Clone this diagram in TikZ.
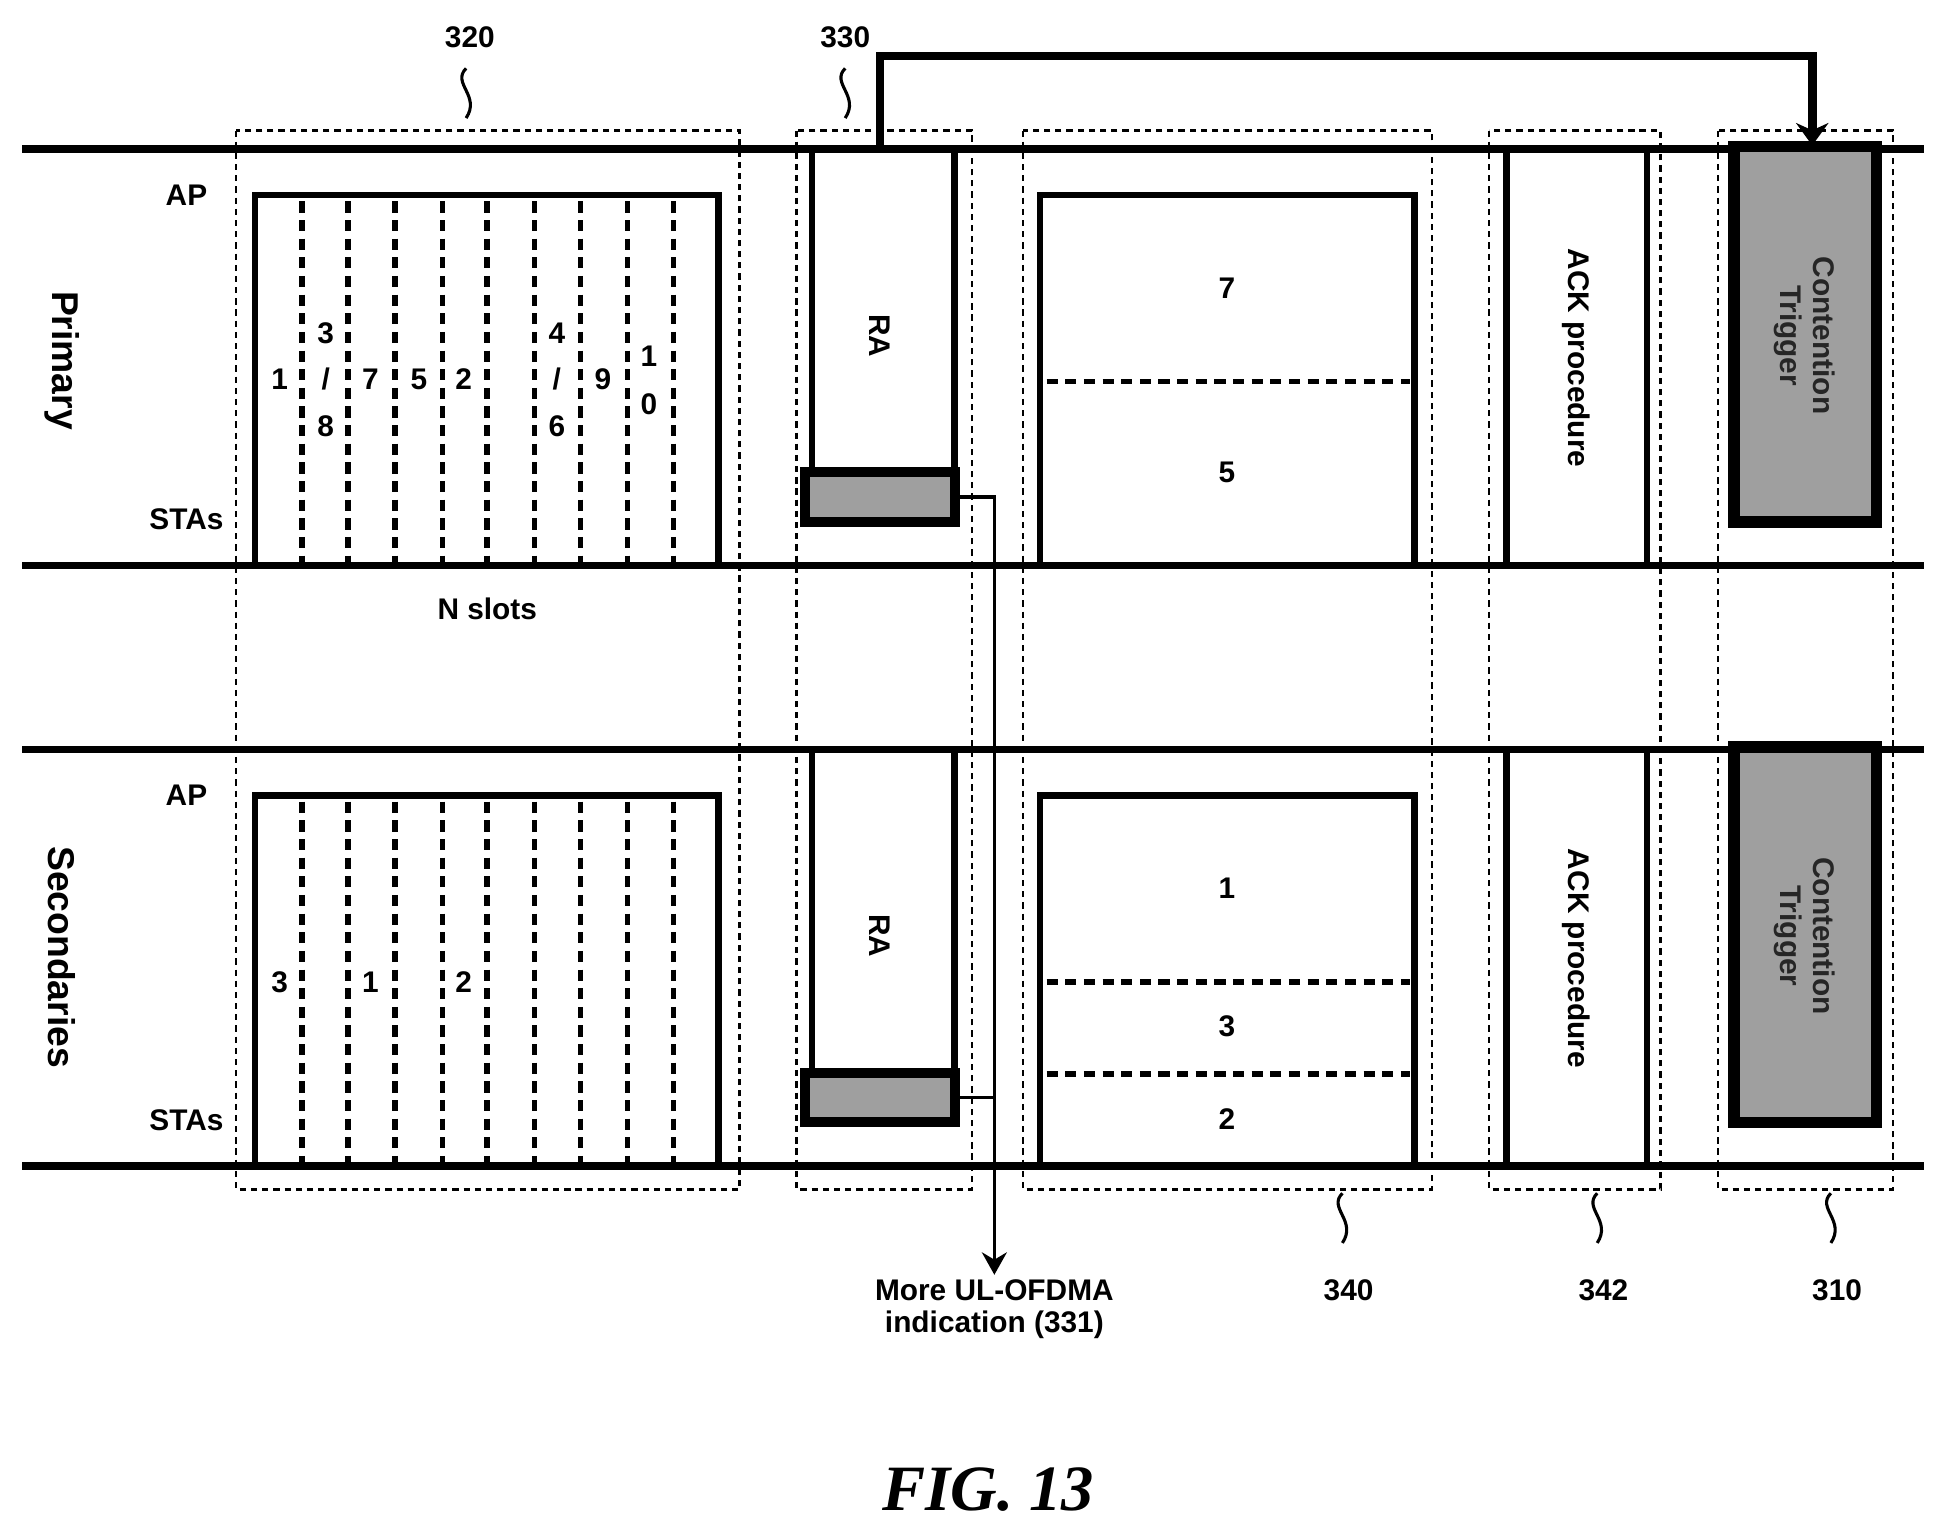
\documentclass[tikz,border=0pt]{standalone}
\usepackage{fontspec}
\usetikzlibrary{arrows.meta}
\setmainfont{Liberation Sans}
\newfontfamily\figfont{Liberation Serif}
\begin{document}
\begin{tikzpicture}[x=1pt,y=-1pt,
  band/.style={line width=6pt},
  box/.style={line width=5pt},
  dsh/.style={dashed,line width=4.5pt,dash pattern=on 9pt off 6pt},
  grp/.style={dashed,line width=2pt,dash pattern=on 5pt off 4pt},
  lab/.style={font=\bfseries\fontsize{24}{26}\selectfont},
  big/.style={font=\bfseries\fontsize{30}{32}\selectfont},
  sq/.style={line width=2.5pt},
  shade/.style={line width=8pt,fill=gray!75}]
\useasboundingbox (0,0) rectangle (1560,1231);
% bands
\foreach \y in {120,455,603,938} \draw[band] (18,\y) -- (1548,\y);
\node[big,rotate=-90] (pri) at (50,290) {Primary};
\node[big,rotate=-90] (sec) at (50,770) {Secondaries};
\foreach \o/\n in {0/a,483/b}{
  \node[lab] (ap\n) at (150,157+\o) {AP};
  \node[lab] (sta\n) at (150,418+\o) {STAs};
  \draw[box] (205,452+\o) -- (205,157+\o) -- (578,157+\o) -- (578,452+\o);
  \foreach \x in {243,280,318,356,392,430,467,505,542} \draw[dsh] (\x,162+\o) -- (\x,452+\o);
  \draw[box] (837,452+\o) -- (837,157+\o) -- (1138,157+\o) -- (1138,452+\o);
  \draw[box] (1212,120+\o) -- (1212,452+\o) (1325,120+\o) -- (1325,452+\o);
  \node[lab,rotate=-90] (ack\n) at (1268,288+\o) {ACK procedure};
  \draw[box] (653,120+\o) -- (653,378+\o) (768,120+\o) -- (768,378+\o);
  \node[lab,rotate=-90] (ra\n) at (708,270+\o) {RA};
  \draw[shade] (648,380+\o) rectangle (768,420+\o);
  \coordinate (bar\n) at (772,400+\o);
  \draw[line width=9pt,fill=gray!75] (1395,118+\o) rectangle (1510,420+\o);
  \node[lab,rotate=-90,align=center,text=black!85] (ct\n) at (1452,270+\o) {Contention\\Trigger};
}
% slot numbers primary
\node[lab] (n1) at (225,305) {1};
\node[lab] (n3) at (262,268) {3};
\node[lab] (ns1) at (262,305) {/};
\node[lab] (n8) at (262,343) {8};
\node[lab] (n7) at (298,305) {7};
\node[lab] (n5) at (337,305) {5};
\node[lab] (n2) at (373,305) {2};
\node[lab] (n4) at (448,268) {4};
\node[lab] (ns2) at (448,305) {/};
\node[lab] (n6) at (448,343) {6};
\node[lab] (n9) at (485,305) {9};
\node[lab] (n10a) at (522,287) {1};
\node[lab] (n10b) at (522,325) {0};
\node[lab] (m3) at (225,790) {3};
\node[lab] (m1) at (298,790) {1};
\node[lab] (m2) at (373,790) {2};
% box 340 contents
\draw[dsh] (842,307) -- (1134,307);
\node[lab] (p7) at (987,232) {7};
\node[lab] (p5) at (987,380) {5};
\draw[dsh] (842,790) -- (1134,790);
\draw[dsh] (842,864) -- (1134,864);
\node[lab] (s1) at (987,715) {1};
\node[lab] (s3) at (987,826) {3};
\node[lab] (s2) at (987,900) {2};
\node[lab] (ns) at (392,490) {N slots};
% group boxes
\foreach \a/\b in {190/595,641/782,823/1152,1198/1336,1382/1523}
  \draw[grp] (\a,105) rectangle (\b,957);
% connectors
\coordinate (j1) at (800,400);
\coordinate (j2) at (800,883);
\node[lab,align=center] (more) at (800,1053) {More UL-OFDMA\\indication (331)};
\draw[line width=3pt] (barb) -- (j2);
\draw[line width=3pt,-{Stealth[length=18pt,width=20pt]}] (bara) -- (j1) -- (more.north);
\coordinate (t0) at (708,120);
\coordinate (t1) at (1458,117);
\draw[line width=7pt,-{Stealth[length=18pt,width=26pt]}] (t0) -- (708,45) -- (1458,45) -- (t1);
% reference labels
\node[lab] (r320) at (378,30) {320};
\node[lab] (r330) at (680,30) {330};
\node[lab] (r340) at (1085,1038) {340};
\node[lab] (r342) at (1290,1038) {342};
\node[lab] (r310) at (1478,1038) {310};
\foreach \x/\ya in {375/55,680/55,1080/960,1285/960,1473/960}
  \draw[sq] (\x,\ya) .. controls (\x-12,\ya+12) and (\x+12,\ya+22) .. (\x,\ya+40);
\node[font=\figfont\bfseries\itshape\fontsize{52}{56}\selectfont] (fig) at (795,1198) {FIG. 13};
\end{tikzpicture}
\end{document}
